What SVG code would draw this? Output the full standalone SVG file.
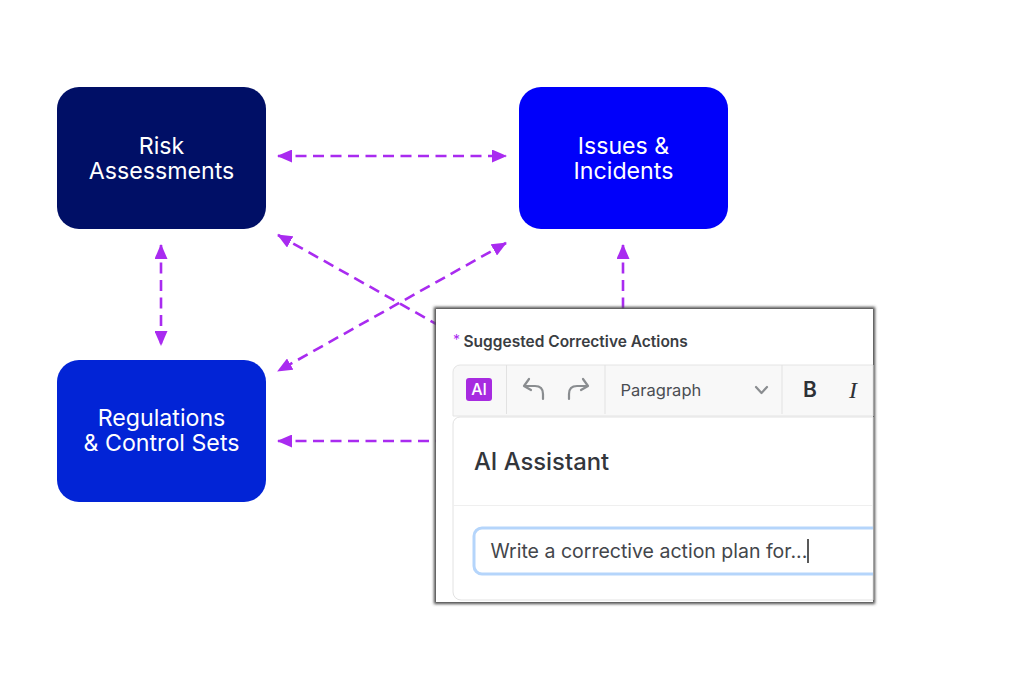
<svg xmlns="http://www.w3.org/2000/svg" width="1024" height="688" viewBox="0 0 1024 688">
<style>
text{font-family:"Inter","Liberation Sans",sans-serif}
.n{fill:#fff;font-size:23.200px;text-anchor:middle}
.c{stroke:#a92bf0;stroke-width:2.6;stroke-dasharray:11 6.500;fill:none;marker-start:url(#s);marker-end:url(#e)}
.sep{stroke:#e2e2e2;stroke-width:1;fill:none}
.ic{stroke:#8a8d90;stroke-width:2.200;fill:none;stroke-linecap:round;stroke-linejoin:round}
</style>
<defs>
<marker id="e" viewBox="0 0 15 13" refX="14" refY="6.500" markerWidth="15" markerHeight="13" markerUnits="userSpaceOnUse" orient="auto"><path d="M0 0L15 6.500L0 13Z" fill="#a92bf0"/></marker>
<marker id="s" viewBox="0 0 15 13" refX="1" refY="6.500" markerWidth="15" markerHeight="13" markerUnits="userSpaceOnUse" orient="auto"><path d="M15 0L0 6.500L15 13Z" fill="#a92bf0"/></marker>
<filter id="sh" x="-5%" y="-5%" width="110%" height="110%"><feMorphology in="SourceAlpha" operator="dilate" radius="1.500"/><feGaussianBlur stdDeviation="1.500" result="b"/><feFlood flood-color="#4a4a4a"/><feComposite in2="b" operator="in"/><feMerge><feMergeNode/><feMergeNode in="SourceGraphic"/></feMerge></filter>
</defs>
<rect width="1024" height="688" fill="#fff"/>
<g id="connectors">
<path class="c" d="M278 156H506"/>
<path class="c" d="M161 245V345"/>
<path class="c" d="M278 235L470 343"/>
<path class="c" d="M506 243L278 371"/>
<path class="c" d="M623 245V340"/>
<path class="c" d="M278 441H460"/>
</g>
<g id="risk"><rect x="57" y="87" width="209" height="142" rx="22" fill="#000f66"/><text class="n"><tspan x="161.500" y="154">Risk</tspan><tspan x="161.500" y="179">Assessments</tspan></text></g>
<g id="issues"><rect x="519" y="87" width="209" height="142" rx="22" fill="#0000fa"/><text class="n"><tspan x="623.500" y="154">Issues &amp;</tspan><tspan x="623.500" y="179">Incidents</tspan></text></g>
<g id="regulations"><rect x="57" y="360" width="209" height="142" rx="22" fill="#0224d6"/><text class="n"><tspan x="161.500" y="426">Regulations</tspan><tspan x="161.500" y="451">&amp; Control Sets</tspan></text></g>
<g id="panel">
<rect x="436" y="309" width="437" height="293" fill="#fff" filter="url(#sh)"/>
<text x="453" y="345" font-size="14" fill="#a92bf0">*</text>
<text x="463.500" y="347" font-size="15.500" font-weight="600" fill="#3a3d42">Suggested Corrective Actions</text>
<path d="M873 365H460a7 7 0 0 0-7 7V416H873Z" fill="#f8f8f8" stroke="#e4e4e4"/>
<path class="sep" d="M506.500 365V414M605 365V414M782 365V414"/>
<rect x="466" y="378" width="26" height="23" rx="3" fill="#a72be0"/>
<text x="479" y="395" font-size="16" font-weight="500" fill="#fff" text-anchor="middle">AI</text>
<path class="ic" d="M529 379L524 386L531 390M525 386H535Q543 386 543 394V399"/>
<path class="ic" d="M583 379L588 386L581 390M587 386H577Q569 386 569 394V399"/>
<text x="620.500" y="396" font-size="16.500" fill="#4a4d52">Paragraph</text>
<path class="ic" d="M756 387L761.500 393L767 387"/>
<text x="810" y="397" font-size="21" font-weight="600" fill="#2e3136" text-anchor="middle">B</text>
<text x="853" y="398" font-size="24" font-style="italic" fill="#2e3136" text-anchor="middle" style="font-family:'Liberation Serif',serif">I</text>
<path d="M873 417H460a7 7 0 0 0-7 7V592a8 8 0 0 0 8 8H873Z" fill="#fff" stroke="#e2e2e2"/>
<text x="474" y="469.500" font-size="23.800" font-weight="500" fill="#33363b">AI Assistant</text>
<path d="M453 505.500H873" stroke="#efefef" fill="none"/>
<path d="M873 528H482a8 8 0 0 0-8 8V566a8 8 0 0 0 8 8H873" fill="#fff" stroke="#b5d5fb" stroke-width="3"/>
<text x="490.500" y="558" font-size="19.500" fill="#43464b">Write a corrective action plan for...</text>
<path d="M808 539V563" stroke="#222" stroke-width="1.500"/>
</g>
</svg>
